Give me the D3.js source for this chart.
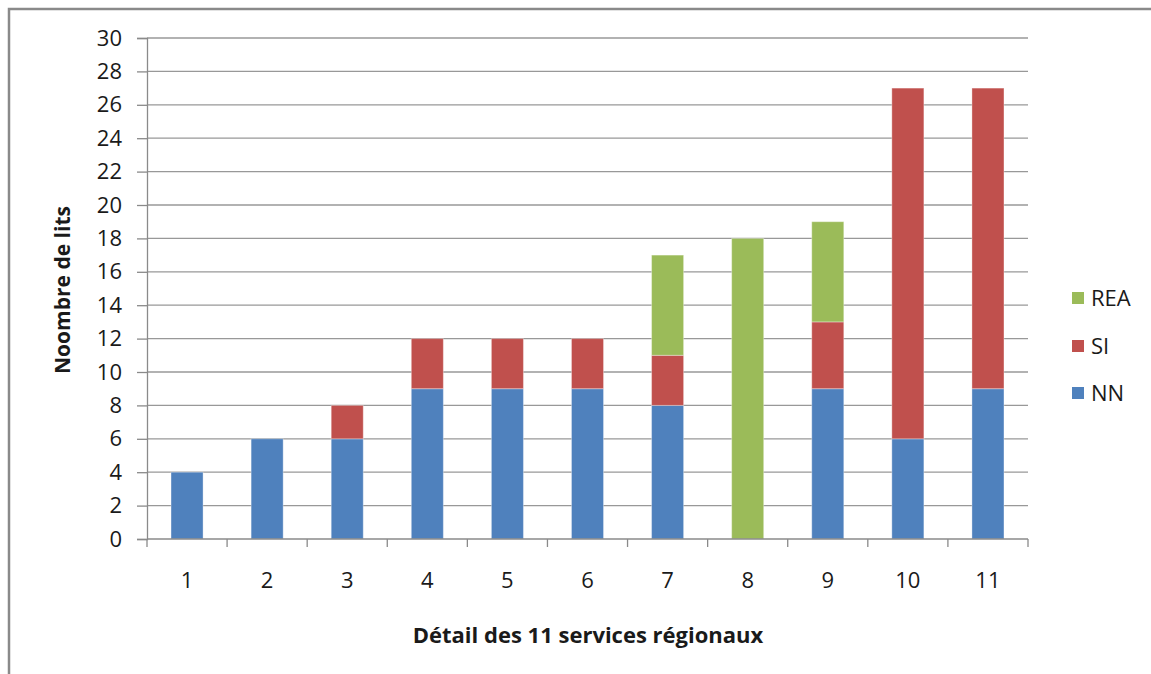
<!DOCTYPE html>
<html lang="fr">
<head>
<meta charset="UTF-8">
<title>Nombre de lits par service</title>
<script src="https://d3js.org/d3.v7.min.js"></script>
<style>
  body { margin: 0; background: #fff; }
  svg { display: block; font-family: "Open Sans", sans-serif; }
</style>
</head>
<body>
<svg width="1151" height="674"></svg>
<script>
const services = ["1", "2", "3", "4", "5", "6", "7", "8", "9", "10", "11"];
const nn  = [4, 6, 6, 9, 9, 9, 8, 0, 9, 6, 9];
const si  = [0, 0, 2, 3, 3, 3, 3, 0, 4, 21, 18];
const rea = [0, 0, 0, 0, 0, 0, 6, 18, 6, 0, 0];
const yTicks = d3.range(0, 31, 2);
const seriesNames = ["NN", "SI", "REA"];
const seriesColors = ["#4f81bd", "#c0504d", "#9bbb59"];

const margin = { top: 38, left: 147 },
    width = 881,
    height = 501;

const svg = d3.select("svg");

// outer frame of the chart
svg.append("rect")
    .attr("x", 9).attr("y", 9)
    .attr("width", 1200).attr("height", 700)
    .attr("fill", "none")
    .attr("stroke", "#8a8a8a")
    .attr("stroke-width", 2.5);

const g = svg.append("g")
    .attr("transform", `translate(${margin.left},${margin.top})`);

const x = d3.scaleBand().domain(services).range([0, width])
    .paddingInner(0.6).paddingOuter(0.3);
const y = d3.scaleLinear().domain([0, 30]).range([height, 0]);

// gridlines
g.append("g")
    .selectAll("line")
    .data(yTicks.filter(d => d > 0))
    .join("line")
    .attr("x1", 0).attr("x2", width)
    .attr("y1", d => y(d)).attr("y2", d => y(d))
    .attr("stroke", "#989898")
    .attr("stroke-width", 1.3);

// stacked bars
const table = services.map((s, i) => ({ service: s, NN: nn[i], SI: si[i], REA: rea[i] }));
const stacked = d3.stack().keys(seriesNames)(table);
const color = d3.scaleOrdinal(seriesNames, seriesColors);

g.append("g")
    .selectAll("g")
    .data(stacked)
    .join("g")
    .attr("fill", d => color(d.key))
    .selectAll("rect")
    .data(d => d.filter(v => v[1] > v[0]))
    .join("rect")
    .attr("x", d => x(d.data.service))
    .attr("width", x.bandwidth())
    .attr("y", d => y(d[1]))
    .attr("height", d => y(d[0]) - y(d[1]))
    .attr("stroke", "rgba(255,255,255,0.35)")
    .attr("stroke-width", 1);

// y axis
const yAxis = g.append("g")
    .call(d3.axisLeft(y).tickValues(yTicks).tickSize(10).tickPadding(15));
yAxis.select(".domain").attr("stroke", "#8a8a8a").attr("stroke-width", 1.3);
yAxis.selectAll(".tick line").attr("stroke", "#8a8a8a").attr("stroke-width", 1.3);
yAxis.selectAll(".tick text")
    .attr("font-size", 22).attr("fill", "#1a1a1a")
    .attr("font-family", "Open Sans");

// x axis: ticks on category boundaries
const xAxis = g.append("g").attr("transform", `translate(0,${height})`);
xAxis.append("line")
    .attr("x1", 0).attr("x2", width)
    .attr("stroke", "#8a8a8a").attr("stroke-width", 1.3);
const step = x.step();
xAxis.selectAll(".bound")
    .data(d3.range(services.length + 1))
    .join("line")
    .attr("class", "bound")
    .attr("x1", i => i * step).attr("x2", i => i * step)
    .attr("y1", 0).attr("y2", 8)
    .attr("stroke", "#8a8a8a").attr("stroke-width", 1.3);
xAxis.selectAll("text")
    .data(services)
    .join("text")
    .attr("x", d => x(d) + x.bandwidth() / 2)
    .attr("y", 49)
    .attr("text-anchor", "middle")
    .attr("font-size", 22)
    .attr("fill", "#1a1a1a")
    .text(d => d);

// axis titles
svg.append("text")
    .attr("x", 588).attr("y", 643)
    .attr("text-anchor", "middle")
    .attr("font-size", 22).attr("font-weight", "bold")
    .attr("fill", "#1a1a1a")
    .text("Détail des 11 services régionaux");

svg.append("text")
    .attr("transform", "translate(70,290) rotate(-90)")
    .attr("text-anchor", "middle")
    .attr("font-size", 21).attr("font-weight", "bold")
    .attr("fill", "#1a1a1a")
    .text("Noombre de lits");

// legend
const legendY = [393, 346, 298];
const legend = svg.append("g")
    .selectAll("g")
    .data(seriesNames)
    .join("g")
    .attr("transform", (d, i) => `translate(1072,${legendY[i]})`);
legend.append("rect")
    .attr("x", 0).attr("y", -6)
    .attr("width", 12).attr("height", 12)
    .attr("fill", d => color(d));
legend.append("text")
    .attr("x", 19).attr("y", 0)
    .attr("dy", "0.35em")
    .attr("font-size", 22)
    .attr("fill", "#1a1a1a")
    .text(d => d);
</script>
</body>
</html>
